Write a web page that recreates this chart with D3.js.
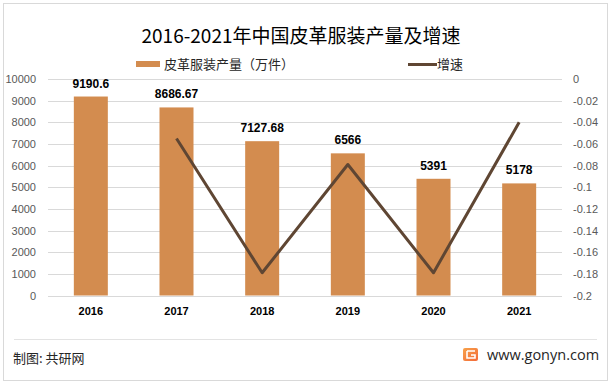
<!DOCTYPE html>
<html><head><meta charset="utf-8">
<script src="https://cdn.jsdelivr.net/npm/d3@7"></script>
<style>
html,body{margin:0;padding:0;background:#fff;}
svg{display:block;}
</style></head>
<body>
<svg id="chart" width="612" height="386"></svg>
<script>
const title = "2016-2021年中国皮革服装产量及增速";
const categories = ["2016","2017","2018","2019","2020","2021"];
const production = [9190.6, 8686.67, 7127.68, 6566, 5391, 5178];
const productionLabels = ["9190.6","8686.67","7127.68","6566","5391","5178"];
const growth = [null, -0.055, -0.179, -0.079, -0.179, -0.040];
const leftTicks = [0,1000,2000,3000,4000,5000,6000,7000,8000,9000,10000];
const rightTicks = [0,-0.02,-0.04,-0.06,-0.08,-0.1,-0.12,-0.14,-0.16,-0.18,-0.2];
const seriesNames = ["皮革服装产量（万件）", "增速"];
const sourceText = "制图: 共研网";
const siteText = "www.gonyn.com";

const barColor = "#D38C4F";
const lineColor = "#5F4633";
const gridColor = "#D9D9D9";
const axisText = "#595959";

const svg = d3.select("#chart");
const plot = {left:48, right:562, top:79, bottom:295.5};

// border
svg.append("rect").attr("x",3.5).attr("y",3.5).attr("width",604).attr("height",377)
  .attr("fill","#fff").attr("stroke","#D9D9D9").attr("stroke-width",1);

const x = d3.scaleBand().domain(categories).range([plot.left, plot.right]).paddingInner(0.6).paddingOuter(0.3);
const xc = d3.scaleBand().domain(categories).range([plot.left, plot.right]);
const yL = d3.scaleLinear().domain([0,10000]).range([plot.bottom, plot.top]);
const yR = d3.scaleLinear().domain([-0.2,0]).range([plot.bottom, plot.top]);

// gridlines
svg.append("g").selectAll("line").data(leftTicks).join("line")
  .attr("x1",plot.left).attr("x2",plot.right)
  .attr("y1",d=>Math.round(yL(d))+0.5).attr("y2",d=>Math.round(yL(d))+0.5)
  .attr("stroke",gridColor).attr("stroke-width",1);

// left axis
const leftAxis = d3.axisLeft(yL).tickValues(leftTicks).tickSize(0).tickPadding(12).tickFormat(d3.format("d"));
const gL = svg.append("g").attr("transform",`translate(${plot.left},0)`).call(leftAxis);
gL.select(".domain").remove();
gL.selectAll("text").attr("fill",axisText).style("font-family","'Liberation Sans', Arial, sans-serif").style("font-size","11px");

// right axis
const rightAxis = d3.axisRight(yR).tickValues(rightTicks).tickSize(0).tickPadding(11).tickFormat(d => d===0 ? "0" : String(+d.toFixed(2)));
const gR = svg.append("g").attr("transform",`translate(${plot.right},0)`).call(rightAxis);
gR.select(".domain").remove();
gR.selectAll("text").attr("fill",axisText).style("font-family","'Liberation Sans', Arial, sans-serif").style("font-size","11px");

// x axis labels
const xAxis = d3.axisBottom(xc).tickSize(0).tickPadding(12);
const gX = svg.append("g").attr("transform",`translate(0,${plot.bottom})`).call(xAxis);
gX.select(".domain").remove();
gX.selectAll("text").attr("fill","#000").style("font-family","'Liberation Sans', Arial, sans-serif").style("font-size","11px").style("font-weight","bold");

// bars
const bw = 34;
svg.append("g").selectAll("rect").data(production).join("rect")
  .attr("x",(d,i)=>xc(categories[i])+xc.bandwidth()/2-bw/2)
  .attr("width",bw)
  .attr("y",d=>yL(d))
  .attr("height",d=>plot.bottom-yL(d))
  .attr("fill",barColor);

// data labels
svg.append("g").selectAll("text").data(production).join("text")
  .attr("x",(d,i)=>xc(categories[i])+xc.bandwidth()/2)
  .attr("y",d=>yL(d)-9)
  .attr("text-anchor","middle")
  .style("font-family","'Liberation Sans', Arial, sans-serif").style("font-size","12px").style("font-weight","bold")
  .attr("fill","#000")
  .text((d,i)=>productionLabels[i]);

// growth line
const pts = growth.map((g,i)=>({g, c:categories[i]})).filter(p=>p.g!==null);
const line = d3.line().x(p=>xc(p.c)+xc.bandwidth()/2).y(p=>yR(p.g));
svg.append("path").datum(pts).attr("d",line)
  .attr("fill","none").attr("stroke",lineColor).attr("stroke-width",3).attr("stroke-linejoin","round");

// title
svg.append("text").attr("x",301).attr("y",43).attr("text-anchor","middle")
  .style("font-family","'Noto Sans CJK SC', sans-serif").style("font-size","19px")
  .attr("fill","#000").text(title);

// legend
svg.append("rect").attr("x",136).attr("y",61).attr("width",24).attr("height",6).attr("fill",barColor);
svg.append("text").attr("x",164).attr("y",69)
  .style("font-family","'Noto Sans CJK SC', sans-serif").style("font-size","13px").attr("fill","#262626")
  .text(seriesNames[0]);
svg.append("line").attr("x1",408).attr("x2",437).attr("y1",64.5).attr("y2",64.5)
  .attr("stroke",lineColor).attr("stroke-width",3);
svg.append("text").attr("x",437).attr("y",69)
  .style("font-family","'Noto Sans CJK SC', sans-serif").style("font-size","13px").attr("fill","#262626")
  .text(seriesNames[1]);

// footer separator
svg.append("line").attr("x1",14).attr("x2",597).attr("y1",339.5).attr("y2",339.5)
  .attr("stroke","#E3E3E3").attr("stroke-width",1);
svg.append("text").attr("x",13).attr("y",363)
  .style("font-family","'Noto Sans CJK SC', sans-serif").style("font-size","13px").attr("fill","#262626")
  .text(sourceText);

// logo
const defs = svg.append("defs");
const grad = defs.append("linearGradient").attr("id","lg").attr("x1","0").attr("y1","0").attr("x2","1").attr("y2","1");
grad.append("stop").attr("offset","0").attr("stop-color","#F7A24A");
grad.append("stop").attr("offset","1").attr("stop-color","#F36A3A");
svg.append("rect").attr("x",463).attr("y",348).attr("width",15).attr("height",13).attr("rx",2).attr("fill","url(#lg)");
svg.append("path").attr("d","M467 351 h8 M467 351 v7 h8 v-3 h-4")
  .attr("fill","none").attr("stroke","#fff").attr("stroke-width",1.6);
svg.append("text").attr("x",487).attr("y",359.5)
  .style("font-family","'Open Sans', sans-serif").style("font-size","14.5px").attr("fill","#262626")
  .text(siteText);
</script>
</body></html>
